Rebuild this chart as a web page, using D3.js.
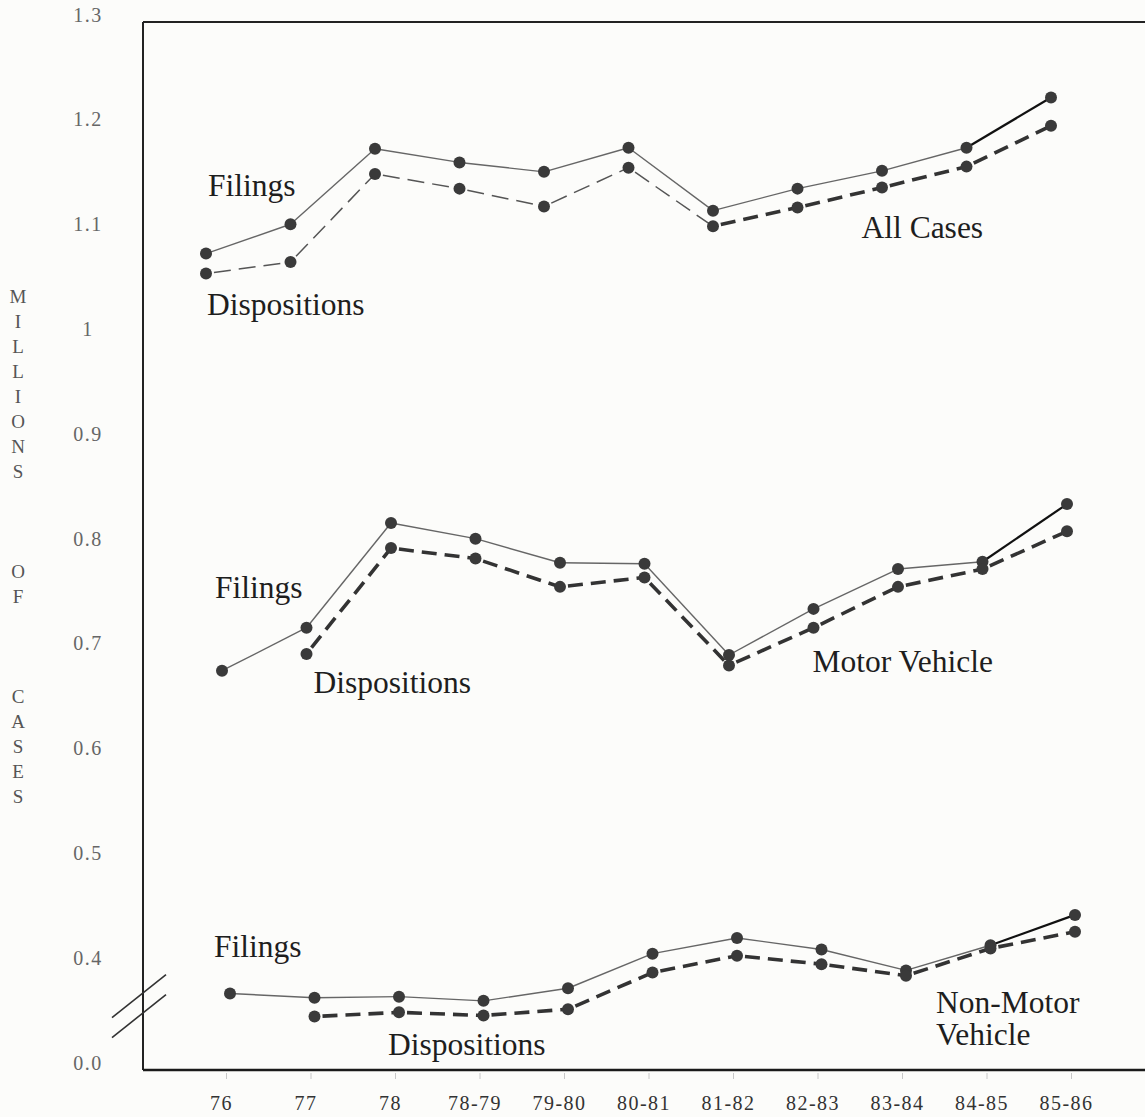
<!DOCTYPE html>
<html>
<head>
<meta charset="utf-8">
<script src="https://cdn.jsdelivr.net/npm/d3@7"></script>
<style>
  body { margin: 0; background: #fcfcfa; }
  svg { display: block; font-family: "Liberation Serif", "Times New Roman", serif; }
</style>
</head>
<body>
<svg id="chart"></svg>
<script>
// fiscal years on the x axis
const years = ['76', '77', '78', '78-79', '79-80', '80-81', '81-82', '82-83', '83-84', '84-85', '85-86'];

// millions of cases
const allFilings      = [1.079, 1.107, 1.179, 1.166, 1.157, 1.180, 1.120, 1.141, 1.158, 1.180, 1.228];
const allDispositions = [1.060, 1.071, 1.155, 1.141, 1.124, 1.161, 1.105, 1.123, 1.142, 1.162, 1.201];

const motorFilings      = [0.681, 0.722, 0.822, 0.807, 0.784, 0.783, 0.696, 0.740, 0.778, 0.785, 0.840];
const motorDispositions = [null, 0.697, 0.798, 0.788, 0.761, 0.770, 0.686, 0.722, 0.761, 0.778, 0.814];

const nonMotorFilings      = [0.373, 0.369, 0.370, 0.366, 0.378, 0.411, 0.426, 0.415, 0.395, 0.419, 0.448];
const nonMotorDispositions = [null, 0.351, 0.355, 0.352, 0.358, 0.393, 0.409, 0.401, 0.390, 0.416, 0.432];

// y ticks: the axis is broken below 0.4, bottom tick reads 0.0
const yTicks      = [1.3, 1.2, 1.1, 1.0, 0.9, 0.8, 0.7, 0.6, 0.5, 0.4, 0.3];
const yTickLabels = ['1.3', '1.2', '1.1', '1', '0.9', '0.8', '0.7', '0.6', '0.5', '0.4', '0.0'];

const titleLetters = ['M', 'I', 'L', 'L', 'I', 'O', 'N', 'S', '', '', '', 'O', 'F', '', '', '', 'C', 'A', 'S', 'E', 'S'];

const width = 1145;
const height = 1117;
const frame = { left: 143, top: 22, right: 1145, bottom: 1070 };

const svg = d3.select('#chart')
    .attr('width', width)
    .attr('height', height);

const xScale = d3.scalePoint().domain(years).range([226, 1071]);
const yScale = d3.scaleLinear().domain([0.3, 1.3]).range([frame.bottom, frame.top]);

// groups of series, each with its own small hand-drawn offset
const groups = [
  {
    filings: allFilings, dispositions: allDispositions, shift: -20, thinDisp: 6,
    labels: [
      { text: ['Filings'], at: '76', dx: -18, v: 1.134 },
      { text: ['Dispositions'], at: '76', dx: -19, v: 1.020 },
      { text: ['All Cases'], at: '82-83', dx: 44, v: 1.094 }
    ]
  },
  {
    filings: motorFilings, dispositions: motorDispositions, shift: -4, thinDisp: 0,
    labels: [
      { text: ['Filings'], at: '76', dx: -11, v: 0.750 },
      { text: ['Dispositions'], at: '77', dx: 3, v: 0.660 },
      { text: ['Motor Vehicle'], at: '82-83', dx: -5, v: 0.680 }
    ]
  },
  {
    filings: nonMotorFilings, dispositions: nonMotorDispositions, shift: 4, thinDisp: 0,
    labels: [
      { text: ['Filings'], at: '76', dx: -12, v: 0.408 },
      { text: ['Dispositions'], at: '78', dx: -7, v: 0.314 },
      { text: ['Non-Motor', 'Vehicle'], at: '83-84', dx: 34, v: 0.354 }
    ]
  }
];

// frame
svg.append('line')
    .attr('x1', frame.left).attr('x2', frame.right)
    .attr('y1', frame.top).attr('y2', frame.top)
    .attr('stroke', '#222').attr('stroke-width', 2);
svg.append('line')
    .attr('x1', frame.left).attr('x2', frame.left)
    .attr('y1', frame.top).attr('y2', frame.bottom)
    .attr('stroke', '#222').attr('stroke-width', 2);

// x axis
const xAxis = svg.append('g')
    .attr('transform', `translate(0,${frame.bottom})`)
    .call(d3.axisBottom(xScale).tickSize(9).tickPadding(0));
xAxis.select('.domain')
    .attr('d', `M${frame.left},0H${frame.right}`)
    .attr('stroke', '#1a1a1a')
    .attr('stroke-width', 2.5);
xAxis.selectAll('.tick line')
    .attr('stroke', '#c8c8c8')
    .attr('y1', 3);
xAxis.selectAll('.tick text')
    .attr('y', 40)
    .attr('dy', 0)
    .attr('dx', -5)
    .attr('fill', '#333')
    .style('font-family', '"Liberation Serif", serif')
    .style('font-size', '20px')
    .style('letter-spacing', '1.5px');

// y axis
const yAxis = svg.append('g')
    .attr('transform', 'translate(88,0)')
    .call(d3.axisLeft(yScale).tickValues(yTicks).tickFormat((d, i) => yTickLabels[i]).tickSize(0));
yAxis.select('.domain').remove();
yAxis.selectAll('.tick text')
    .attr('x', 0)
    .attr('dy', -1)
    .attr('text-anchor', 'middle')
    .attr('fill', '#666')
    .style('font-family', '"Liberation Serif", serif')
    .style('font-size', '20px')
    .style('letter-spacing', '1.5px');

// axis break marks
const breakY = yScale(0.35);
[0, 20].forEach((off) => {
  svg.append('line')
      .attr('x1', frame.left - 31).attr('y1', breakY + off)
      .attr('x2', frame.left + 23).attr('y2', breakY - 43 + off)
      .attr('stroke', '#333').attr('stroke-width', 1.6);
});

// vertical axis title
svg.append('text')
    .attr('fill', '#555')
    .style('font-size', '19px')
    .attr('text-anchor', 'middle')
    .selectAll('tspan')
    .data(titleLetters)
    .enter()
    .append('tspan')
    .attr('x', 18)
    .attr('y', (d, i) => 303 + i * 25)
    .text((d) => d);

const dotColor = '#3a3a3a';

groups.forEach((grp) => {
  const g = svg.append('g').attr('transform', `translate(${grp.shift},0)`);
  const pts = (vals) => vals.map((v, i) => ({ x: xScale(years[i]), y: v === null ? null : yScale(v) }));

  const fPts = pts(grp.filings);
  const dPts = pts(grp.dispositions);

  // filings: thin solid, last segment heavier
  d3.pairs(fPts).forEach(([a, b], i, arr) => {
    if (a.y === null || b.y === null) return;
    const last = i === arr.length - 1;
    g.append('line')
        .attr('x1', a.x).attr('y1', a.y).attr('x2', b.x).attr('y2', b.y)
        .attr('stroke', last ? '#111' : '#666')
        .attr('stroke-width', last ? 2.2 : 1.4);
  });

  // dispositions: dashed
  d3.pairs(dPts).forEach(([a, b], i) => {
    if (a.y === null || b.y === null) return;
    const thin = i < grp.thinDisp;
    g.append('line')
        .attr('x1', a.x).attr('y1', a.y).attr('x2', b.x).attr('y2', b.y)
        .attr('stroke', thin ? '#555' : '#333')
        .attr('stroke-width', thin ? 1.5 : 3.6)
        .attr('stroke-dasharray', thin ? '17,8' : '15,8')
        .attr('stroke-dashoffset', -8);
  });

  g.selectAll('circle.f')
      .data(fPts.filter((p) => p.y !== null))
      .enter()
      .append('circle')
      .attr('class', 'f')
      .attr('cx', (d) => d.x)
      .attr('cy', (d) => d.y)
      .attr('r', 6)
      .attr('fill', dotColor);

  g.selectAll('circle.d')
      .data(dPts.filter((p) => p.y !== null))
      .enter()
      .append('circle')
      .attr('class', 'd')
      .attr('cx', (d) => d.x)
      .attr('cy', (d) => d.y)
      .attr('r', 6)
      .attr('fill', dotColor);

  const labels = svg.selectAll(null)
      .data(grp.labels)
      .enter()
      .append('text')
      .attr('fill', '#1e1e1e')
      .style('font-size', '31.5px');

  labels.selectAll('tspan')
      .data((d) => d.text.map((t) => ({ t: t, d: d })))
      .enter()
      .append('tspan')
      .attr('x', (o) => xScale(o.d.at) + o.d.dx)
      .attr('y', (o, i) => yScale(o.d.v) + i * 32)
      .text((o) => o.t);
});
</script>
</body>
</html>
